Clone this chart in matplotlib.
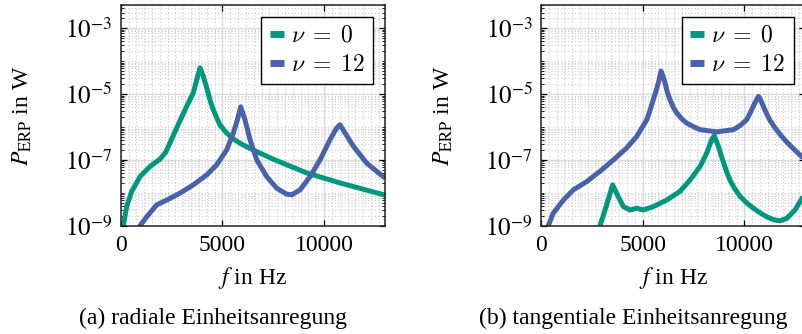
import math

import matplotlib
matplotlib.use("Agg")
import matplotlib.pyplot as plt
from matplotlib import ticker
from matplotlib.font_manager import FontProperties

plt.rcParams["font.family"] = ["Liberation Serif", "DejaVu Serif"]
plt.rcParams["mathtext.fontset"] = "stix"
plt.rcParams["font.size"] = 17

GREEN = "#00977f"
BLUE = "#4a62aa"

# (a) radial unit excitation
rad_f_nu0 = [60, 130, 290, 540, 950, 1440, 1930, 2220, 2590, 2920, 3250, 3570,
             3740, 3900, 4060, 4230, 4400, 4550, 4720, 4880, 5050, 5210, 5500,
             5870, 6200, 6520, 7500, 9150, 10780, 13000]
rad_p_nu0 = [3.2e-10, 1.0e-9, 3.8e-9, 1.1e-8, 3.1e-8, 6.3e-8, 1.05e-7, 1.74e-7,
             5.6e-7, 1.58e-6, 4.3e-6, 1.1e-5, 2.75e-5, 6.3e-5, 3.5e-5, 1.55e-5,
             6.3e-6, 3.4e-6, 1.9e-6, 1.17e-6, 8.5e-7, 6.6e-7, 4.5e-7, 3.2e-7,
             2.5e-7, 2.0e-7, 1.05e-7, 4.0e-8, 2.0e-8, 8.5e-9]
rad_f_nu12 = [800, 950, 1280, 1770, 2260, 2920, 3570, 4230, 4720, 5210, 5540,
              5740, 5900, 6110, 6360, 6690, 7180, 7670, 8160, 8410, 8820, 9310,
              9800, 10290, 10620, 10780, 11030, 11440, 12100, 12910, 13000]
rad_p_nu12 = [5.0e-10, 1.0e-9, 1.86e-9, 4.3e-9, 6.0e-9, 9.8e-9, 1.74e-8, 3.5e-8,
              7.1e-8, 2.0e-7, 6.6e-7, 1.66e-6, 4.1e-6, 1.66e-6, 4.1e-7, 1.0e-7,
              3.1e-8, 1.38e-8, 9.1e-9, 8.7e-9, 1.23e-8, 3.1e-8, 1.0e-7, 4.1e-7,
              9.3e-7, 1.17e-6, 6.6e-7, 2.6e-7, 7.9e-8, 3.1e-8, 2.8e-8]

# (b) tangential unit excitation
tan_f_nu0 = [2800, 2900, 3230, 3520, 3800, 4050, 4380, 4700, 5030, 5520, 6180,
             6830, 7330, 7820, 8150, 8390, 8520, 8600, 8720, 8850, 8960, 9120,
             9290, 9500, 9780, 10100, 10440, 10800, 11100, 11450, 11750, 12080,
             12490, 12880, 13000]
tan_p_nu0 = [4.0e-10, 1.0e-9, 4.3e-9, 1.74e-8, 7.6e-9, 3.8e-9, 3.0e-9, 3.4e-9,
             3.0e-9, 3.8e-9, 6.0e-9, 1.1e-8, 2.45e-8, 6.3e-8, 1.62e-7, 4.1e-7,
             5.4e-7, 4.0e-7, 2.6e-7, 1.41e-7, 8.9e-8, 4.5e-8, 2.45e-8, 1.41e-8,
             7.9e-9, 5.0e-9, 3.4e-9, 2.4e-9, 1.86e-9, 1.51e-9, 1.41e-9, 1.66e-9,
             3.0e-9, 7.6e-9, 1.05e-8]
tan_f_nu12 = [250, 360, 600, 1100, 1590, 2250, 2900, 3560, 4210, 4700, 5200,
              5360, 5520, 5650, 5770, 5900, 6000, 6100, 6200, 6340, 6500, 6670,
              6900, 7160, 7500, 7820, 8640, 9460, 9800, 10110, 10300, 10440,
              10600, 10690, 10800, 10930, 11100, 11260, 11500, 11750, 12080,
              12410, 12900, 13000]
tan_p_nu12 = [5.0e-10, 1.0e-9, 2.4e-9, 6.0e-9, 1.23e-8, 2.2e-8, 4.5e-8, 1.0e-7,
              2.3e-7, 5.1e-7, 1.66e-6, 3.2e-6, 6.8e-6, 1.2e-5, 2.2e-5, 5.0e-5,
              3.5e-5, 2.2e-5, 1.2e-5, 6.8e-6, 4.0e-6, 2.7e-6, 1.82e-6, 1.32e-6,
              1.02e-6, 8.3e-7, 7.1e-7, 8.3e-7, 1.12e-6, 1.66e-6, 2.8e-6, 4.3e-6,
              6.8e-6, 8.5e-6, 6.6e-6, 4.3e-6, 2.5e-6, 1.58e-6, 9.5e-7, 6.0e-7,
              3.5e-7, 2.2e-7, 1.12e-7, 1.0e-7]

labels = [r"$\nu\;=\;0$", r"$\nu\;=\;12$"]
y_ticks = [1e-9, 1e-7, 1e-5, 1e-3]
x_ticks = [0, 5000, 10000]
captions = ["(a) radiale Einheitsanregung", "(b) tangentiale Einheitsanregung"]

panels = [
    (rad_f_nu0, rad_p_nu0, rad_f_nu12, rad_p_nu12),
    (tan_f_nu0, tan_p_nu0, tan_f_nu12, tan_p_nu12),
]

fig = plt.figure(figsize=(8.03, 3.34), dpi=100)
W, H = 803, 334
ax_w, ax_h = 264.4, 220.4
lefts = [120.7, 541.0]
cap_x = [213, 633]

for i, (f0, p0, f12, p12) in enumerate(panels):
    ax = fig.add_axes([lefts[i] / W, (H - 225.7) / H, ax_w / W, ax_h / H])
    for f, p, c, lab in ((f0, p0, GREEN, labels[0]), (f12, p12, BLUE, labels[1])):
        ax.semilogy(f, p, color=c, lw=3.6, label=lab,
                    solid_joinstyle="round", solid_capstyle="butt")
    ax.set_xlim(0, 13000)
    ax.set_ylim(1e-9, 5e-3)

    ax.xaxis.set_major_locator(ticker.FixedLocator(x_ticks))
    ax.xaxis.set_minor_locator(ticker.AutoMinorLocator(13))
    ax.yaxis.set_major_locator(ticker.FixedLocator(y_ticks))
    ax.yaxis.set_minor_locator(ticker.LogLocator(base=10, subs=range(1, 10), numticks=30))
    ax.yaxis.set_major_formatter(ticker.FuncFormatter(
        lambda v, _: r"$10^{%d}$" % round(math.log10(v))))
    ax.yaxis.set_minor_formatter(ticker.NullFormatter())

    ax.grid(which="major", color="#dcdcdc", lw=1.0, ls="-")
    ax.grid(which="minor", color="#cdcdcd", lw=0.8, ls=(0, (1, 2)))
    ax.set_axisbelow(True)

    ax.tick_params(which="both", direction="in", top=True, right=True, color="black")
    ax.tick_params(which="major", length=4, width=0.9, pad=7)
    ax.tick_params(axis="y", which="major", labelsize=18, pad=6)
    ax.tick_params(axis="y", which="minor", length=2.5, width=0.6)
    ax.tick_params(axis="x", which="minor", length=0)
    for s in ax.spines.values():
        s.set_linewidth(1.1)
        s.set_color("#222222")

    ax.set_xlabel(r"$f$ in Hz", labelpad=6)
    ax.set_ylabel(r"$P_\mathrm{ERP}$ in W", labelpad=22)

    leg = ax.legend(loc="upper right",
                    prop=FontProperties(family="Liberation Serif", size=17,
                                        math_fontfamily="cm"),
                    handlelength=0.6, handletextpad=0.3, labelspacing=0.32,
                    borderaxespad=0.5, borderpad=0.35, fancybox=False,
                    framealpha=1, edgecolor="black")
    leg.get_frame().set_linewidth(1.0)
    for h in leg.get_lines():
        h.set_linewidth(5)

    fig.text(cap_x[i] / W, 1 - 318 / H, captions[i], ha="center", va="center")

fig.savefig("out.png", dpi=100, facecolor="white")
